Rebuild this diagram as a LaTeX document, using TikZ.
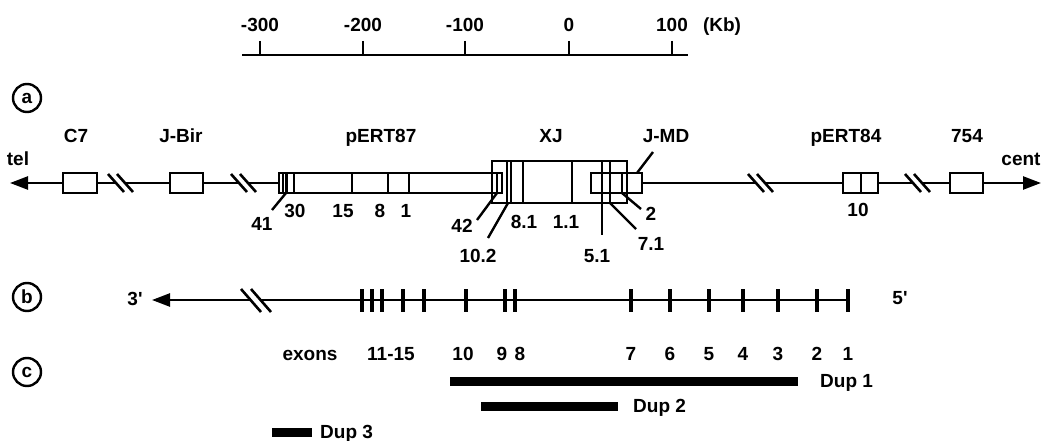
\documentclass[tikz,border=0pt]{standalone}
\usepackage{fontspec}
\setmainfont{Liberation Sans}
\usetikzlibrary{arrows.meta}
\begin{document}
\begin{tikzpicture}[x=1pt,y=-1pt,
  lbl/.style={font=\bfseries\fontsize{19}{22}\selectfont, inner sep=0pt, anchor=base},
  gbox/.style={draw, line width=2.6pt, inner sep=0pt, minimum height=20pt},
  mline/.style={line width=2.4pt},
  inln/.style={line width=2.4pt},
  exon/.style={line width=3.4pt},
  dupbar/.style={line width=9pt},
  circ/.style={draw, circle, line width=2.4pt, minimum size=28pt, inner sep=0pt, font=\bfseries\fontsize{19}{22}\selectfont},
  brk/.style={line width=2.6pt},
  arr/.style={-{Triangle[length=18pt,width=13pt]}}
]
\useasboundingbox (0,0) rectangle (1042,441);

% ---------- scale bar ----------
\coordinate (sbL) at (242,55);
\coordinate (sbR) at (688,55);
\draw[mline] (sbL) -- (sbR);
\foreach \x/\t/\n in {260/-300/s1,363/-200/s2,465/-100/s3,569/0/s4,672/100/s5}{
  \draw[mline] (\x,41) -- (\x,55);
  \node[lbl] (\n) at (\x,32) {\t};
}
\node[lbl] (kb) at (722,32) {(Kb)};

% ---------- circles ----------
\node[circ] (ca) at (27,98) {a};
\node[circ] (cb) at (27,297) {b};
\node[circ] (cc) at (27,372) {c};

% ---------- (a) map ----------
\node[lbl] (tel) at (18,166) {tel};
\node[lbl] (cent) at (1021,166) {cent};

\node[gbox, minimum width=34pt] (c7) at (80,183) {};
\node[gbox, minimum width=33pt] (jbir) at (186.5,183) {};
\node[gbox, minimum width=135pt, minimum height=42pt] (xj) at (559.5,182) {};
\node[gbox, minimum width=223pt] (p87) at (390.5,183) {};
\node[gbox, minimum width=51pt] (jmd) at (616.5,183) {};
\node[gbox, minimum width=35pt] (p84) at (860.5,183) {};
\node[gbox, minimum width=33pt] (b754) at (966.5,183) {};

\node[lbl] (lc7) at (76,143) {C7};
\node[lbl] (ljbir) at (181,143) {J-Bir};
\node[lbl] (lp87) at (381,143) {pERT87};
\node[lbl] (lxj) at (551,143) {XJ};
\node[lbl] (ljmd) at (666,143) {J-MD};
\node[lbl] (lp84) at (846,143) {pERT84};
\node[lbl] (l754) at (967,143) {754};

% main line with breaks
\coordinate (telTip) at (10,183);
\coordinate (centTip) at (1041,183);
\coordinate (b1L) at (116,183); \coordinate (b1R) at (125,183);
\coordinate (b2L) at (239,183); \coordinate (b2R) at (248,183);
\coordinate (b3L) at (756,183); \coordinate (b3R) at (765,183);
\coordinate (b4L) at (913,183); \coordinate (b4R) at (922,183);
\draw[mline,arr] (c7.west) -- (telTip);
\draw[mline] (c7.east) -- (b1L);
\draw[mline] (b1R) -- (jbir.west);
\draw[mline] (jbir.east) -- (b2L);
\draw[mline] (b2R) -- (p87.west);
\draw[mline] (jmd.east) -- (b3L);
\draw[mline] (b3R) -- (p84.west);
\draw[mline] (p84.east) -- (b4L);
\draw[mline] (b4R) -- (b754.west);
\draw[mline,arr] (b754.east) -- (centTip);
\foreach \c in {116,125,239,248,756,765,913,922}{
  \draw[brk] (\c-8,174) -- (\c+8,192);
}

% pERT87 internal lines
\foreach \x in {283,286.5,294,352,388,409,497}{
  \draw[inln] (\x,173) -- (\x,193);
}
% XJ internal lines
\foreach \x in {507,511,523,572,610}{
  \draw[inln] (\x,161) -- (\x,203);
}
\draw[inln] (602,161) -- (602,235);
% pERT84 internal
\draw[inln] (861,173) -- (861,193);
% J-MD internal
\draw[inln] (622,173) -- (622,193);

% leaders and labels
\draw[inln] (286,193) -- (272,210);
\node[lbl] (n41) at (262,230) {41};
\node[lbl] (n30) at (295,217) {30};
\node[lbl] (n15) at (343,217) {15};
\node[lbl] (n8) at (380,217) {8};
\node[lbl] (n1) at (406,217) {1};
\draw[inln] (497,193) -- (477,220);
\node[lbl] (n42) at (462,233) {42};
\draw[inln] (508,203) -- (488,238);
\node[lbl] (n102) at (478,262) {10.2};
\node[lbl] (n81) at (524,229) {8.1};
\node[lbl] (n11) at (566,229) {1.1};
\node[lbl] (n51) at (597,262) {5.1};
\draw[inln] (610,203) -- (636,229);
\node[lbl] (n71) at (651,250) {7.1};
\draw[inln] (622,193) -- (641,209);
\node[lbl] (n2) at (651,220) {2};
\draw[inln] (637,173) -- (653,152);
\node[lbl] (n10) at (858,216) {10};

% ---------- (b) gene ----------
\coordinate (tip3) at (152,300);
\coordinate (bbL) at (251,300);
\coordinate (bbR) at (261,300);
\coordinate (g1) at (848,300);
\draw[mline,arr] (bbL) -- (tip3);
\draw[mline] (bbR) -- (g1);
\foreach \c in {251,261}{
  \draw[brk] (\c-10,289) -- (\c+10,312);
}
\node[lbl] (l3) at (135,305) {3\textquotesingle};
\node[lbl] (l5) at (900,304) {5\textquotesingle};
\foreach \x in {362,372,382,403,424,466,505,515,631,670,709,743,778,817,848}{
  \draw[exon] (\x,289) -- (\x,312);
}
\foreach \x/\t/\n in {310/exons/e0,391/11-15/e11,463/10/e10,502/9/e9,520/8/e8,631/7/e7,670/6/e6,709/5/e5,743/4/e4,778/3/e3,817/2/e2,848/1/e1}{
  \node[lbl] (\n) at (\x,360) {\t};
}

% ---------- (c) duplications ----------
\coordinate (d1a) at (450,381); \coordinate (d1b) at (798,381);
\coordinate (d2a) at (481,406); \coordinate (d2b) at (618,406);
\coordinate (d3a) at (272,432); \coordinate (d3b) at (312,432);
\draw[dupbar] (d1a) -- (d1b);
\draw[dupbar] (d2a) -- (d2b);
\draw[dupbar] (d3a) -- (d3b);
\node[lbl, anchor=base west] (dup1) at (820,387) {Dup 1};
\node[lbl, anchor=base west] (dup2) at (633,412) {Dup 2};
\node[lbl, anchor=base west] (dup3) at (320,438) {Dup 3};
\end{tikzpicture}
\end{document}
